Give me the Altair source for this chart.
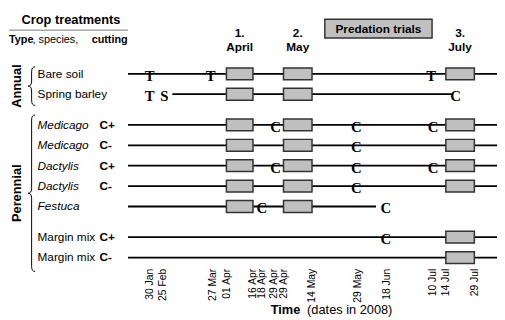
import altair as alt
import pandas as pd

# ---------------- data ----------------
# schematic time axis (positions along the time line)
tick_labels = ["30 Jan", "25 Feb", "27 Mar", "01 Apr", "16 Apr", "18 Apr", "29 Apr",
               "29 Apr", "14 May", "29 May", "18 Jun", "10 Jul", "14 Jul", "29 Jul"]
tick_pos = [22, 35, 86, 100, 127, 136, 148, 158, 187, 233, 263, 309, 323, 352]

# crop treatments (rows)
row_names = ["Bare soil", "Spring barley", "Medicago", "Medicago", "Dactylis",
             "Dactylis", "Festuca", "Margin mix", "Margin mix"]
row_cut = ["", "", "C+", "C-", "C+", "C-", "", "C+", "C-"]
row_italic = [False, False, True, True, True, True, True, False, False]
row_type = ["Annual", "Annual", "Perennial", "Perennial", "Perennial",
            "Perennial", "Perennial", "Perennial", "Perennial"]
row_pos = [0, 1, 2.5, 3.5, 4.5, 5.5, 6.5, 8, 9]
line_start = [0, 45, 0, 0, 0, 0, 0, 0, 0]
line_end = [375, 329, 375, 375, 375, 375, 252, 375, 375]

# predation trial periods
period_names = ["April", "May", "July"]
period_num = ["1.", "2.", "3."]
period_start = [100, 158, 323]
period_end = [127, 187, 352]
row_trials = [[0, 1, 2], [0, 1], [0, 1, 2], [0, 1, 2], [0, 1, 2], [0, 1, 2], [0, 1], [2], [2]]

# field events: T = tillage, S = sowing, C = cutting
event_row = [0, 0, 0, 1, 1, 1, 2, 2, 2, 3, 4, 4, 4, 5, 6, 6, 7]
event_letter = ["T", "T", "T", "T", "S", "C", "C", "C", "C", "C", "C", "C", "C", "C", "C", "C", "C"]
event_pos = [22, 84, 308, 22, 37, 333, 150, 232, 310, 232, 150, 232, 310, 232, 136, 262, 262]

# ---------------- tables ----------------
rows_df = pd.DataFrame({"name": row_names, "cut": row_cut, "italic": row_italic,
                        "type": row_type, "row": row_pos,
                        "start": line_start, "end": line_end})
boxes_df = pd.DataFrame([
    {"row": row_pos[i], "start": period_start[p], "end": period_end[p]}
    for i, ps in enumerate(row_trials) for p in ps
])
events_df = pd.DataFrame({"row": [row_pos[i] for i in event_row],
                          "letter": event_letter, "pos": event_pos})
periods_df = pd.DataFrame({"name": period_names, "num": period_num,
                           "start": period_start, "end": period_end})

X0, X1 = 0, 375
Y0, Y1 = -0.5, 9.14
W, H = 375, 210
ROWPX = H / (Y1 - Y0)

xs = alt.Scale(domain=[X0, X1], nice=False, zero=False)
ys = alt.Scale(domain=[Y0, Y1], reverse=True, nice=False, zero=False)

lab_arr = "[" + ",".join(f"'{l}'" for l in tick_labels) + "]"
pos_arr = "[" + ",".join(str(p) for p in tick_pos) + "]"
xaxis = alt.Axis(values=tick_pos, labelExpr=f"{lab_arr}[indexof({pos_arr}, datum.value)]",
                 labelAngle=270, ticks=False, domain=False, grid=False,
                 labelOverlap=False, labelFlush=False, labelBound=False,
                 labelFont="Liberation Sans", labelFontSize=10.5, labelColor="black",
                 labelPadding=3, title=None)
yaxis = None


def X(field):
    return alt.X(field, scale=xs, axis=xaxis)


def Y(field):
    return alt.Y(field, scale=ys, axis=yaxis)


SANS = "Liberation Sans"

lines = alt.Chart(rows_df).mark_rule(color="black", strokeWidth=1.8).encode(
    x=X("start:Q"), x2="end:Q", y=Y("row:Q"),
)

boxes = alt.Chart(boxes_df).mark_bar(size=12, fill="#c0c0c0", stroke="#333333",
                                     strokeWidth=1.5).encode(
    x=X("start:Q"), x2="end:Q", y=Y("row:Q"),
)

letters = alt.Chart(events_df).mark_text(font="Liberation Serif", fontWeight="bold",
                                         fontSize=15, baseline="middle", dy=2,
                                         color="black").encode(
    x=X("pos:Q"), y=Y("row:Q"), text="letter:N",
)

name_italic = alt.Chart(rows_df).transform_filter("datum.italic").mark_text(
    font=SANS, fontSize=12, fontStyle="italic", align="left", baseline="middle",
    color="black").encode(x=alt.value(-92), y=Y("row:Q"), text="name:N")
name_plain = alt.Chart(rows_df).transform_filter("!datum.italic").mark_text(
    font=SANS, fontSize=12, align="left", baseline="middle",
    color="black").encode(x=alt.value(-92), y=Y("row:Q"), text="name:N")
cuts = alt.Chart(rows_df).mark_text(
    font=SANS, fontSize=12, fontWeight="bold", align="left", baseline="middle",
    color="black").encode(x=alt.value(-29), y=Y("row:Q"), text="cut:N")

# group labels and braces
groups = []
for g in ["Annual", "Perennial"]:
    rs = [r for r, t in zip(row_pos, row_type) if t == g]
    groups.append({"type": g, "mid": (min(rs) + max(rs)) / 2 + 0.1,
                   "half": (max(rs) - min(rs)) / 2 + 0.4})
groups_df = pd.DataFrame(groups)

group_text = alt.Chart(groups_df).mark_text(
    font=SANS, fontSize=13, fontWeight="bold", angle=270, align="center",
    baseline="middle", color="black").encode(
    x=alt.value(-113), y=Y("mid:Q"), text="type:N")


def brace_path(hpx):
    u = 2.0 / hpx
    w = 3.5 * u
    r = min(5 * u, 0.3)
    return (f"M {w:.4f} -1 Q 0 -1 0 {-1 + r:.4f} L 0 {-r:.4f} Q 0 0 {-w:.4f} 0 "
            f"Q 0 0 0 {r:.4f} L 0 {1 - r:.4f} Q 0 1 {w:.4f} 1")


brace_layers = []
for g in groups:
    hpx = 2 * g["half"] * ROWPX
    brace_layers.append(
        alt.Chart(groups_df).transform_filter(f"datum.type == '{g['type']}'")
        .mark_point(shape=brace_path(hpx), filled=False, stroke="black",
                    strokeWidth=1, opacity=1)
        .encode(x=alt.value(-98), y=Y("mid:Q"), size=alt.value(hpx * hpx))
    )

# period headers
period_n = alt.Chart(periods_df).transform_calculate(
    mid="(datum.start + datum.end) / 2").mark_text(
    font=SANS, fontSize=12, fontWeight="bold", baseline="middle", color="black").encode(
    x=X("mid:Q"), y=alt.value(-26), text="num:N")
period_m = alt.Chart(periods_df).transform_calculate(
    mid="(datum.start + datum.end) / 2").mark_text(
    font=SANS, fontSize=12, fontWeight="bold", baseline="middle", color="black").encode(
    x=X("mid:Q"), y=alt.value(-12), text="name:N")

anno = pd.DataFrame({"k": [0]})
pred_box = alt.Chart(anno).mark_rect(fill="#c0c0c0", stroke="#333333",
                                     strokeWidth=1.5).encode(
    x=alt.value(200), x2=alt.value(309), y=alt.value(-40), y2=alt.value(-21))
pred_text = alt.Chart(anno).mark_text(font=SANS, fontSize=12, fontWeight="bold",
                                      baseline="middle", color="black").encode(
    x=alt.value(254.5), y=alt.value(-30), text=alt.value("Predation trials"))

title1 = alt.Chart(anno).mark_text(font=SANS, fontSize=13, fontWeight="bold",
                                   baseline="middle", color="black").encode(
    x=alt.value(-58), y=alt.value(-39), text=alt.value("Crop treatments"))
underline = alt.Chart(anno).mark_rule(color="#777777", strokeWidth=1).encode(
    x=alt.value(-121), x2=alt.value(0), y=alt.value(-29))
sub1 = alt.Chart(anno).mark_text(font=SANS, fontSize=11, fontWeight="bold",
                                 align="left", baseline="middle", color="black").encode(
    x=alt.value(-121), y=alt.value(-19), text=alt.value("Type"))
sub2 = alt.Chart(anno).mark_text(font=SANS, fontSize=11, align="left",
                                 baseline="middle", color="black").encode(
    x=alt.value(-97), y=alt.value(-19), text=alt.value(", species,"))
sub3 = alt.Chart(anno).mark_text(font=SANS, fontSize=11, fontWeight="bold",
                                 align="left", baseline="middle", color="black").encode(
    x=alt.value(-37), y=alt.value(-19), text=alt.value("cutting"))

xt1 = alt.Chart(anno).mark_text(font=SANS, fontSize=13, fontWeight="bold",
                                align="left", baseline="middle", color="black").encode(
    x=alt.value(145), y=alt.value(255), text=alt.value("Time"))
xt2 = alt.Chart(anno).mark_text(font=SANS, fontSize=13, align="left",
                                baseline="middle", color="black").encode(
    x=alt.value(182), y=alt.value(255), text=alt.value("(dates in 2008)"))

chart = alt.layer(
    lines, boxes, letters, name_italic, name_plain, cuts, group_text, *brace_layers,
    period_n, period_m, pred_box, pred_text, title1, underline, sub1, sub2, sub3,
    xt1, xt2,
).properties(
    width=W, height=H,
    padding={"left": 122, "top": 49, "right": 0, "bottom": 50},
    autosize=alt.AutoSizeParams(type="none"),
    background="white",
).configure_view(stroke=None)

chart.save("out.html", embed_options={"renderer": "svg", "actions": False})
